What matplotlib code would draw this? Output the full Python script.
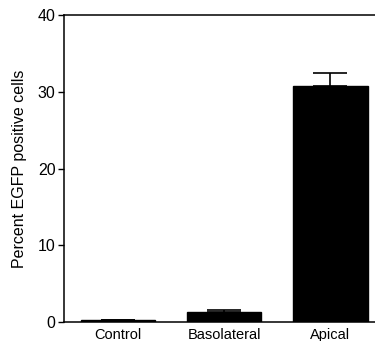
import matplotlib
matplotlib.use("Agg")
import matplotlib.pyplot as plt

plt.rcParams['font.family'] = ['Liberation Sans', 'DejaVu Sans']

categories = ["Control", "Basolateral", "Apical"]
values = [0.25, 1.25, 30.75]
errors_up = [0.0, 0.35, 1.7]

fig = plt.figure(figsize=(3.75, 3.41), dpi=100)
ax = fig.add_axes([0.1707, 0.0557, 0.8293, 0.9003])

x = range(len(categories))
ax.bar(x, values, width=0.7, color="black", edgecolor="black",
       yerr=[[0] * len(errors_up), errors_up], capsize=12.5,
       error_kw={"elinewidth": 1.2, "capthick": 1.2, "ecolor": "black"})

ax.set_xlim(-0.51, 2.42)
ax.set_ylim(0, 40)
ax.set_yticks([0, 10, 20, 30, 40])
ax.set_xticks(list(x))
ax.set_xticklabels(categories, fontsize=10.5)
ax.tick_params(axis="y", labelsize=11.5, length=4, width=1, pad=2)
ax.tick_params(axis="x", length=0, pad=4)
ax.set_ylabel("Percent EGFP positive cells", fontsize=11.5, labelpad=8)

ax.spines["right"].set_visible(False)
for s in ["left", "top", "bottom"]:
    ax.spines[s].set_linewidth(1.1)

fig.savefig("out.png", dpi=100)
